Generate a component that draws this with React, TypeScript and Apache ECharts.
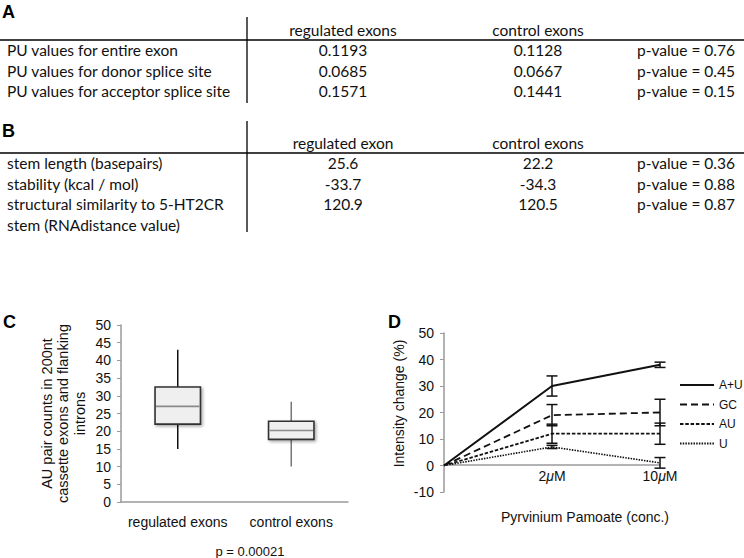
import React, { useEffect, useRef } from 'react';
import * as echarts from 'echarts';

// ---------- Table A ----------
const tableAColumns = ['regulated exons', 'control exons'];
const tableALabels = ['PU values for entire exon', 'PU values for donor splice site', 'PU values for acceptor splice site'];
const tableARegulated = ['0.1193', '0.0685', '0.1571'];
const tableAControl = ['0.1128', '0.0667', '0.1441'];
const tableAPValues = ['0.76', '0.45', '0.15'];

// ---------- Table B ----------
const tableBColumns = ['regulated exon', 'control exons'];
const tableBLabels = ['stem length (basepairs)', 'stability (kcal / mol)', 'structural similarity to 5-HT2CR\nstem (RNAdistance value)'];
const tableBRegulated = ['25.6', '-33.7', '120.9'];
const tableBControl = ['22.2', '-34.3', '120.5'];
const tableBPValues = ['0.36', '0.88', '0.87'];

// ---------- Panel C (box plot) ----------
const boxCategories = ['regulated exons', 'control exons'];
// [min, q1, median, q3, max]
const boxRegulated = [15, 22, 27, 32.5, 43];
const boxControl = [10, 17.7, 20.2, 22.8, 28.3];
const boxYTitle = 'AU pair counts in 200nt\ncassette exons and flanking\nintrons';
const boxPValue = 'p = 0.00021';

// ---------- Panel D (lines) ----------
const concCategories = ['', '2μM', '10μM'];
const seriesNames = ['A+U', 'GC', 'AU', 'U'];
const valuesAplusU = [0, 30, 38];
const errorsAplusU = [0, 3.8, 1];
const valuesGC = [0, 19, 20];
const errorsGC = [0, 4, 5];
const valuesAU = [0, 12, 12];
const errorsAU = [0, 3.6, 4];
const valuesU = [0, 7, 1];
const errorsU = [0, 0.6, 2];
const lineYTitle = 'Intensity change (%)';
const lineXTitle = 'Pyrvinium Pamoate (conc.)';

const TABLE_FONT = 'Lato';
const TABLE_SIZE = 15.5;
const CHART_FONT = 'Liberation Sans';
const INK = '#111';

function tText(text: string, x: number, y: number, align: string) {
  return {
    type: 'text',
    x,
    y: y - 10.25,
    silent: true,
    style: { text, fill: INK, fontSize: TABLE_SIZE, fontFamily: TABLE_FONT, align, verticalAlign: 'top', lineHeight: 20.5 },
  };
}
function hLine(x1: number, x2: number, y: number) {
  return { type: 'line', silent: true, shape: { x1, y1: y, x2, y2: y }, style: { stroke: '#000', lineWidth: 1.3 } };
}
function letter(text: string, x: number, y: number) {
  return {
    type: 'text', x, y, silent: true,
    style: { text, fill: '#000', fontSize: 18, fontWeight: 'bold', fontFamily: CHART_FONT, align: 'left', verticalAlign: 'middle' },
  };
}

function buildTable(columns: string[], labels: string[], reg: string[], ctl: string[], ps: string[], headerY: number, ruleY: number, rowYs: number[], vTop: number, vBottom: number) {
  const colLabelX = 7, colRegX = 343, colCtlX = 538, colPRight = 735, vX = 247;
  const els: any[] = [];
  els.push(tText(columns[0], colRegX, headerY, 'center'));
  els.push(tText(columns[1], colCtlX, headerY, 'center'));
  els.push(hLine(0, 744, ruleY));
  els.push({ type: 'line', silent: true, shape: { x1: vX, y1: vTop, x2: vX, y2: vBottom }, style: { stroke: '#000', lineWidth: 1.3 } });
  labels.forEach((l, i) => {
    els.push(tText(l, colLabelX, rowYs[i], 'left'));
    els.push(tText(reg[i], colRegX, rowYs[i], 'center'));
    els.push(tText(ctl[i], colCtlX, rowYs[i], 'center'));
    els.push(tText('p-value = ' + ps[i], colPRight, rowYs[i], 'right'));
  });
  return els;
}

export default function App() {
  const ref = useRef<HTMLDivElement>(null);
  useEffect(() => {
    if (!ref.current) return;
    const chart = echarts.init(ref.current, undefined, { renderer: 'svg' });

    const boxData = [boxRegulated, boxControl].map((s, i) => [i, ...s]);
    const whiskerColors = ['#111', '#777'];

    const lineValues = [valuesAplusU, valuesGC, valuesAU, valuesU];
    const lineErrors = [errorsAplusU, errorsGC, errorsAU, errorsU];
    const lineStyles = [
      { width: 2, type: 'solid' as any },
      { width: 1.8, type: [7, 4] as any },
      { width: 1.8, type: [3.5, 1.8] as any },
      { width: 1.6, type: [1.5, 1.2] as any },
    ];
    const errData: number[][] = [];
    lineValues.forEach((vals, s) => {
      vals.forEach((v, i) => {
        if (lineErrors[s][i] > 0) errData.push([i, v - lineErrors[s][i], v + lineErrors[s][i]]);
      });
    });

    const graphics: any[] = [
      letter('A', 2, 12),
      ...buildTable(tableAColumns, tableALabels, tableARegulated, tableAControl, tableAPValues, 30, 40, [50, 70.5, 91], 17, 103),
      letter('B', 2, 131),
      ...buildTable(tableBColumns, tableBLabels, tableBRegulated, tableBControl, tableBPValues, 143, 153, [163, 183.5, 204], 121, 232),
      letter('C', 3, 322),
      letter('D', 388, 322),
      {
        type: 'text', x: 250, y: 551, silent: true,
        style: { text: boxPValue, fill: INK, fontSize: 13, fontFamily: CHART_FONT, align: 'center', verticalAlign: 'middle' },
      },
      {
        type: 'text', x: 585, y: 517, silent: true,
        style: { text: lineXTitle, fill: INK, fontSize: 14, fontFamily: CHART_FONT, align: 'center', verticalAlign: 'middle' },
      },
    ];

    const axisGray = '#9a9a9a';

    chart.setOption({
      animation: false,
      backgroundColor: '#fff',
      textStyle: { fontFamily: CHART_FONT },
      graphic: graphics,
      grid: [
        { left: 121, top: 325, width: 227, height: 177 },
        { left: 444, top: 333, width: 216, height: 159 },
      ],
      legend: {
        orient: 'vertical',
        left: 679,
        top: 377,
        padding: 0,
        itemWidth: 34,
        itemHeight: 4,
        itemGap: 3.5,
        selectedMode: false,
        itemStyle: { opacity: 0 },
        textStyle: { fontSize: 12, color: INK, fontFamily: CHART_FONT, lineHeight: 16 },
        data: seriesNames,
      },
      xAxis: [
        {
          gridIndex: 0, type: 'category', data: boxCategories,
          axisLine: { lineStyle: { color: axisGray, width: 1.5 } },
          axisTick: { show: false },
          axisLabel: { color: INK, fontSize: 14, margin: 13, interval: 0 },
        },
        {
          gridIndex: 1, type: 'category', data: concCategories, boundaryGap: false,
          position: 'bottom',
          offset: -27,
          axisLine: { onZero: false, lineStyle: { color: axisGray, width: 1.5 } },
          axisTick: { show: false },
          axisLabel: {
            color: INK, fontSize: 14, margin: 4, interval: 0,
            formatter: (v: string) => v.replace('μ', '{i|μ}'),
            rich: { i: { fontStyle: 'italic', fontSize: 14, color: INK } },
          },
        },
      ],
      yAxis: [
        {
          gridIndex: 0, type: 'value', min: 0, max: 50, interval: 5,
          axisLine: { show: true, lineStyle: { color: axisGray, width: 1.5 } },
          axisTick: { show: true, length: 4, lineStyle: { color: axisGray } },
          splitLine: { show: false },
          axisLabel: { color: INK, fontSize: 14, margin: 10 },
          name: boxYTitle, nameLocation: 'middle', nameRotate: 90, nameGap: 33,
          nameTextStyle: { color: INK, fontSize: 14.5, lineHeight: 16.5, align: 'center' },
        },
        {
          gridIndex: 1, type: 'value', min: -10, max: 50, interval: 10,
          axisLine: { show: true, lineStyle: { color: axisGray, width: 1.5 } },
          axisTick: { show: true, length: 4, lineStyle: { color: axisGray } },
          splitLine: { show: false },
          axisLabel: { color: INK, fontSize: 14, margin: 10 },
          name: lineYTitle, nameLocation: 'middle', nameRotate: 90, nameGap: 38,
          nameTextStyle: { color: INK, fontSize: 14, padding: [0, 0, 0, 18] },
        },
      ],
      series: [
        {
          type: 'custom', name: 'box', xAxisIndex: 0, yAxisIndex: 0,
          data: boxData,
          encode: { x: 0, y: [1, 2, 3, 4, 5] },
          renderItem: (params: any, api: any) => {
            const idx = api.value(0);
            const mn = api.value(1), q1 = api.value(2), md = api.value(3), q3 = api.value(4), mx = api.value(5);
            const xc = api.coord([idx, md])[0];
            const y = (v: number) => api.coord([idx, v])[1];
            const bw = api.size([1, 0])[0] * 0.4;
            const wc = whiskerColors[idx];
            return {
              type: 'group',
              children: [
                { type: 'line', shape: { x1: xc, y1: y(q3), x2: xc, y2: y(mx) }, style: { stroke: wc, lineWidth: 1.5 } },
                { type: 'line', shape: { x1: xc, y1: y(q1), x2: xc, y2: y(mn) }, style: { stroke: wc, lineWidth: 1.5 } },
                {
                  type: 'rect',
                  shape: { x: xc - bw / 2, y: y(q3), width: bw, height: y(q1) - y(q3) },
                  style: { fill: '#efefef', stroke: '#333', lineWidth: 1.6, shadowBlur: 3, shadowColor: 'rgba(0,0,0,0.35)', shadowOffsetX: 1.5, shadowOffsetY: 1.5 },
                },
                { type: 'line', shape: { x1: xc - bw / 2 + 1, y1: y(md), x2: xc + bw / 2 - 1, y2: y(md) }, style: { stroke: '#8a8a8a', lineWidth: 1.6 } },
              ],
            };
          },
        },
        ...seriesNames.map((name, s) => ({
          type: 'line', name, xAxisIndex: 1, yAxisIndex: 1,
          data: lineValues[s],
          symbol: 'none',
          lineStyle: { color: INK, width: lineStyles[s].width, type: lineStyles[s].type },
          itemStyle: { color: INK },
          z: 3,
        })),
        {
          type: 'custom', name: 'errors', xAxisIndex: 1, yAxisIndex: 1,
          data: errData,
          encode: { x: 0, y: [1, 2] },
          z: 4,
          renderItem: (params: any, api: any) => {
            const lo = api.coord([api.value(0), api.value(1)]);
            const hi = api.coord([api.value(0), api.value(2)]);
            const cw = 5.5;
            const st = { stroke: INK, lineWidth: 1.5 };
            return {
              type: 'group',
              children: [
                { type: 'line', shape: { x1: lo[0], y1: lo[1], x2: hi[0], y2: hi[1] }, style: st },
                { type: 'line', shape: { x1: lo[0] - cw, y1: lo[1], x2: lo[0] + cw, y2: lo[1] }, style: st },
                { type: 'line', shape: { x1: hi[0] - cw, y1: hi[1], x2: hi[0] + cw, y2: hi[1] }, style: st },
              ],
            };
          },
        },
      ],
    });
    return () => chart.dispose();
  }, []);
  return (
    <div
      ref={ref}
      style={{ position: 'absolute', left: 0, top: 0, width: 744, height: 558, background: '#fff' }}
    />
  );
}
